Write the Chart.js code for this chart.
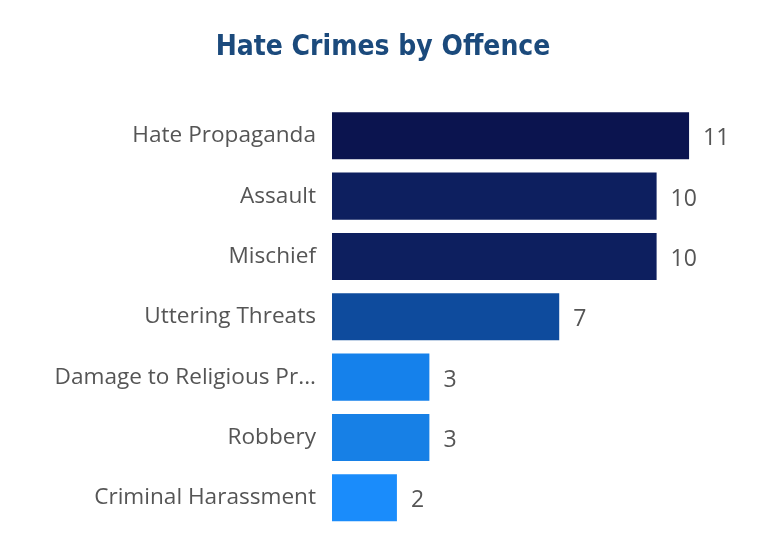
<!DOCTYPE html>
<html>
<head>
<meta charset="utf-8">
<script src="https://cdn.jsdelivr.net/npm/chart.js@4/dist/chart.umd.min.js"></script>
<style>
  html, body { margin:0; padding:0; background:#fff; }
  #wrap { width:780px; height:559px; position:relative; }
</style>
</head>
<body>
<div id="wrap"><canvas id="c"></canvas></div>
<script>
// data
const offences = ['Hate Propaganda','Assault','Mischief','Uttering Threats','Damage to Religious Pr...','Robbery','Criminal Harassment'];
const counts = [11, 10, 10, 7, 3, 3, 2];
const barColors = ['#0b144f','#0d1f5f','#0d1f5f','#0e4b9d','#1581eb','#1780e6','#1a8cfb'];

// number next to each bar end
const valueLabels = {
  id:'valueLabels',
  afterDatasetsDraw(chart){
    const ctx = chart.ctx, meta = chart.getDatasetMeta(0);
    ctx.save();
    ctx.font = '23px "Open Sans", sans-serif';
    ctx.fillStyle = '#555';
    ctx.textAlign = 'left';
    ctx.textBaseline = 'middle';
    meta.data.forEach((bar,i)=> ctx.fillText(counts[i], bar.x + 14, bar.y + 3));
    ctx.restore();
  }
};

new Chart(document.getElementById('c'), {
  type:'bar',
  data:{ labels:offences, datasets:[{ data:counts, backgroundColor:barColors, borderWidth:0, barPercentage:0.78, categoryPercentage:1 }] },
  options:{
    indexAxis:'y',
    responsive:true, maintainAspectRatio:false, animation:false,
    layout:{ padding:{ top:0, right:14, bottom:31, left:0 } },
    plugins:{
      legend:{ display:false }, tooltip:{ enabled:false },
      title:{ display:true, text:'Hate Crimes by Offence', color:'#1b4a7c',
        font:{ family:'"DejaVu Sans Condensed", "Liberation Sans Narrow", sans-serif', size:28, weight:'bold' },
        padding:{ top:31, bottom:41 } }
    },
    scales:{
      x:{ display:false, min:0, max:13.37 },
      y:{ grid:{ display:false, drawTicks:false }, border:{ display:false },
        ticks:{ color:'#555', padding:16, font:{ family:'"Open Sans", sans-serif', size:22.6 } },
        afterFit(scale){ scale.width = 332; } }
    }
  },
  plugins:[valueLabels]
});
</script>
</body>
</html>
